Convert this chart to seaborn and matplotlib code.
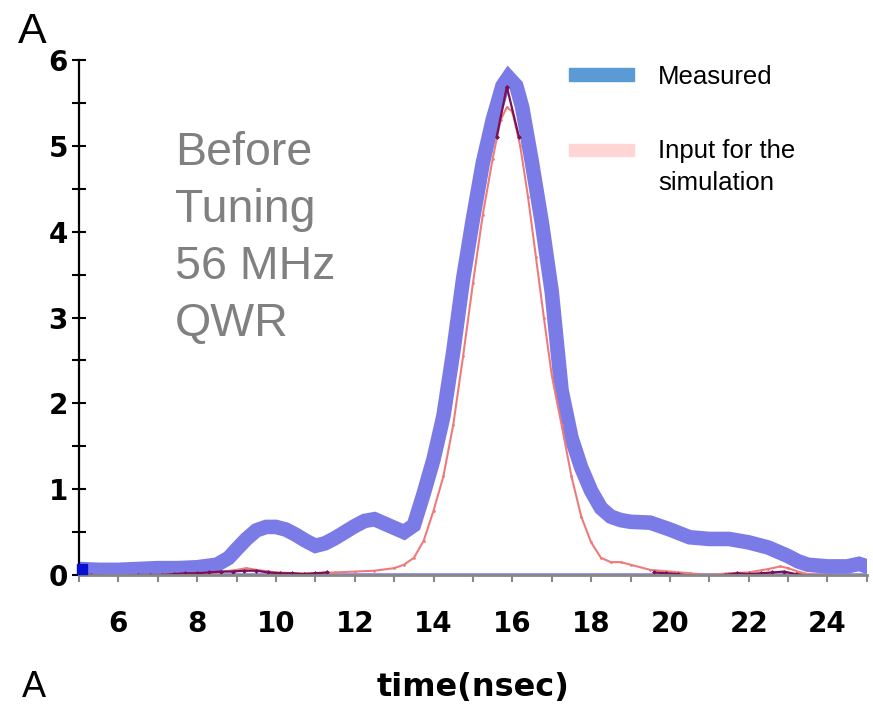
import numpy as np
import pandas as pd
import matplotlib
matplotlib.use('Agg')
import matplotlib.pyplot as plt
import seaborn as sns
from matplotlib.patches import Rectangle

# measured bunch signal (band centre)
meas_t = [5, 5.5, 6, 6.5, 7, 7.5, 8, 8.5, 8.8, 9, 9.25, 9.5, 9.75, 10, 10.25, 10.5,
          10.75, 11, 11.25, 11.5, 11.75, 12, 12.25, 12.5, 12.75, 13, 13.25, 13.5,
          13.75, 14, 14.25, 14.5, 14.75, 15, 15.25, 15.5, 15.75, 15.9, 16.1, 16.25,
          16.5, 16.75, 17, 17.25, 17.5, 17.75, 18, 18.25, 18.5, 18.75, 19, 19.5, 20,
          20.5, 21, 21.5, 22, 22.5, 23, 23.25, 23.5, 24, 24.5, 24.8, 25]
meas_a = [0.07, 0.06, 0.06, 0.07, 0.08, 0.08, 0.09, 0.12, 0.2, 0.3, 0.42, 0.52, 0.56,
          0.56, 0.53, 0.47, 0.4, 0.34, 0.37, 0.43, 0.5, 0.57, 0.63, 0.65, 0.6, 0.55,
          0.5, 0.58, 0.95, 1.35, 1.85, 2.6, 3.45, 4.15, 4.8, 5.3, 5.7, 5.8, 5.7, 5.45,
          4.8, 4.1, 3.3, 2.15, 1.6, 1.25, 0.98, 0.78, 0.68, 0.64, 0.62, 0.61, 0.53,
          0.44, 0.42, 0.42, 0.38, 0.32, 0.22, 0.16, 0.12, 0.1, 0.1, 0.13, 0.1]

# input for the simulation
inp_t = [5, 5.5, 6, 6.5, 7, 7.5, 8, 8.5, 9, 9.25, 9.5, 10, 10.5, 11, 11.5, 12, 12.5,
         13, 13.25, 13.5, 13.75, 14, 14.25, 14.5, 14.75, 15, 15.25, 15.5, 15.7, 15.86,
         16.0, 16.2, 16.4, 16.6, 16.8, 17.0, 17.25, 17.5, 17.75, 18.0, 18.25, 18.5,
         18.75, 19, 19.5, 20, 20.5, 21, 21.5, 22, 22.5, 22.8, 23, 23.25, 23.5, 24,
         24.5, 25]
inp_a = [0.0, -0.01, -0.01, 0.0, 0.0, 0.01, 0.02, 0.03, 0.06, 0.08, 0.06, 0.03, 0.02,
         0.02, 0.03, 0.04, 0.05, 0.08, 0.12, 0.2, 0.4, 0.75, 1.15, 1.75, 2.55, 3.4, 4.2,
         4.85, 5.3, 5.45, 5.4, 5.0, 4.4, 3.7, 3.0, 2.33, 1.75, 1.15, 0.68, 0.38, 0.2,
         0.15, 0.15, 0.12, 0.06, 0.04, 0.02, 0.0, 0.02, 0.03, 0.07, 0.1, 0.08, 0.04,
         0.01, 0.0, -0.01, -0.01]

# dark trace, visible only in a few stretches
dark_t_low = [5, 5.3, 5.6, 5.9, 6.2, 6.5, 6.8, 7.1, 7.4, 7.7, 8.0, 8.3, 8.6, 8.9, 9.2,
              9.5, 9.8, 10.1, 10.4, 10.7, 11.0, 11.3]
dark_a_low = [0.0, 0.0, -0.01, -0.01, -0.01, 0.0, 0.0, 0.0, 0.01, 0.02, 0.02, 0.03,
              0.04, 0.04, 0.05, 0.05, 0.03, 0.02, 0.02, 0.01, 0.02, 0.03]
dark_t_peak = [15.6, 15.86, 16.17]
dark_a_peak = [5.1, 5.69, 5.1]
dark_t_high = [19.6, 19.9, 20.2, 20.5, 20.8, 21.1, 21.4, 21.7, 22.0, 22.3, 22.6, 22.9,
               23.2, 23.5, 23.8, 24.1, 24.4, 24.7, 25]
dark_a_high = [0.03, 0.02, 0.01, -0.01, -0.02, -0.02, 0.0, 0.02, 0.01, 0.02, 0.03,
               0.04, 0.01, -0.01, -0.01, -0.01, -0.02, -0.02, -0.02]

base_t = [5, 25]
base_a = [0.01, 0.01]

x_major = [6, 8, 10, 12, 14, 16, 18, 20, 22, 24]
x_minor = [5, 7, 9, 11, 13, 15, 17, 19, 21, 23, 25]
y_major = [0, 1, 2, 3, 4, 5, 6]
y_minor = [0.5, 1.5, 2.5, 3.5, 4.5, 5.5]

sns.set_style('ticks')
plt.rcParams['font.family'] = ['DejaVu Sans']
plt.rcParams['text.color'] = 'black'

fig = plt.figure(figsize=(8.73, 7.07), dpi=100)
ax = fig.add_axes([0.0905, 0.1867, 0.9025, 0.7283])

sns.lineplot(x=base_t, y=base_a, ax=ax, color='#8c8cf0', linewidth=2.0)
sns.lineplot(x=meas_t, y=meas_a, ax=ax, color='#7b7be8', linewidth=10.5,
             solid_joinstyle='miter')
sns.lineplot(x=inp_t, y=inp_a, ax=ax, color='#ee7b7b', linewidth=1.5,
             marker='.', markersize=4, markeredgewidth=0)
for t, a in [(dark_t_low, dark_a_low), (dark_t_peak, dark_a_peak),
             (dark_t_high, dark_a_high)]:
    sns.lineplot(x=t, y=a, ax=ax, color='#7a1055', linewidth=1.6,
                 marker='D', markersize=2.5, markeredgewidth=0)
ax.scatter([5.08], [0.07], marker='s', s=60, color='#0a10d0', zorder=5, clip_on=False)

ax.set_xlim(5, 25)
ax.set_ylim(0, 6)
ax.set_xticks(x_major)
ax.set_xticks(x_minor, minor=True)
ax.set_yticks(y_major)
ax.set_yticks(y_minor, minor=True)
ax.set_xticklabels([str(v) for v in x_major], fontweight='bold', fontsize=20)
ax.set_yticklabels([str(v) for v in y_major], fontweight='bold', fontsize=20)

ax.tick_params(axis='x', which='both', direction='out', length=5, width=1.5,
               colors='#888888', labelcolor='black', pad=20)
ax.tick_params(axis='y', which='both', direction='inout', length=10, width=1.5,
               colors='black', pad=3)

for s in ['top', 'right']:
    ax.spines[s].set_visible(False)
ax.spines['left'].set_linewidth(1.6)
ax.spines['left'].set_color('black')
ax.spines['bottom'].set_linewidth(2)
ax.spines['bottom'].set_color('#888888')

ax.set_xlabel('time(nsec)', fontweight='bold', fontsize=23, va='center',
              color='black')
ax.xaxis.set_label_coords(0.5, -0.219)
ax.set_ylabel('')

# annotation
grey = '#808080'
for i, line in enumerate(['Before', 'Tuning', '56 MHz', 'QWR']):
    fig.text(175 / 873, 1 - (165 + 57 * i) / 707, line, color=grey, fontsize=33.5,
             family='Liberation Sans', va='baseline', ha='left')

# legend drawn by hand
fig.patches.append(Rectangle((569 / 873, 1 - 81 / 707), 65 / 873, 13 / 707,
                             transform=fig.transFigure, color='#5b9bd5'))
fig.patches.append(Rectangle((569 / 873, 1 - 156 / 707), 65 / 873, 12 / 707,
                             transform=fig.transFigure, color='#ffd5d5'))
fig.text(658 / 873, 1 - 84 / 707, 'Measured', fontsize=18.5, family='Liberation Sans',
         va='baseline')
fig.text(658 / 873, 1 - 158 / 707, 'Input for the', fontsize=18.5,
         family='Liberation Sans', va='baseline')
fig.text(658 / 873, 1 - 190 / 707, 'simulation', fontsize=18.5,
         family='Liberation Sans', va='baseline')

fig.text(18 / 873, 1 - 43 / 707, 'A', fontsize=31, family='Liberation Sans',
         va='baseline')
fig.text(22 / 873, 0.003, 'A', fontsize=26, family='Liberation Sans',
         va='bottom')

fig.savefig('out.png', dpi=100)
